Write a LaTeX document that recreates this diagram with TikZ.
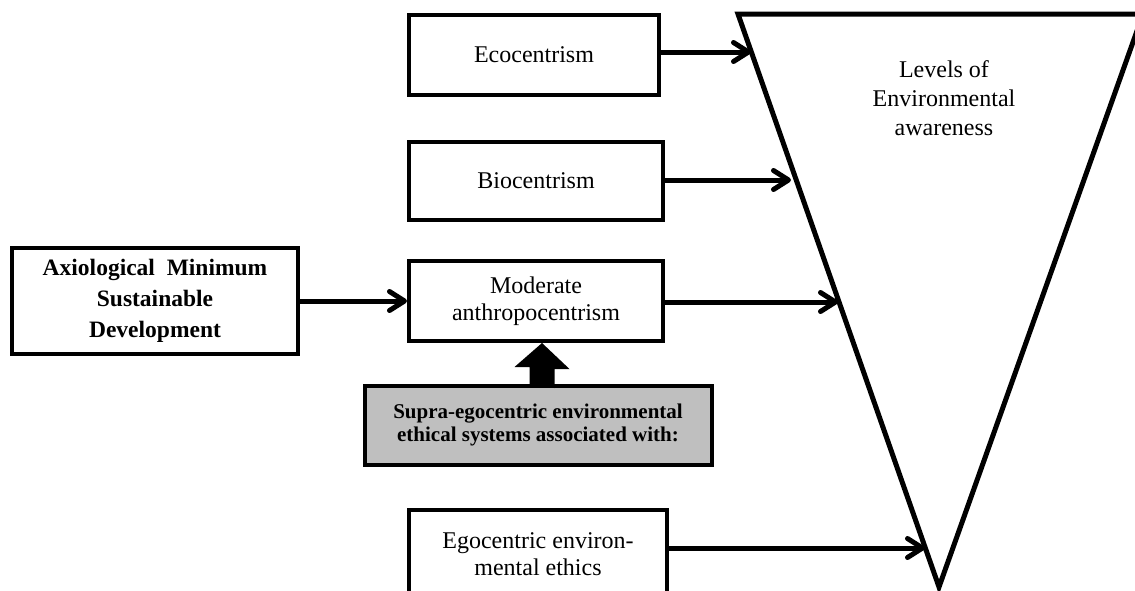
\documentclass[tikz,border=0pt]{standalone}
\usepackage{fontspec}
\setmainfont{Liberation Serif}
\usetikzlibrary{arrows.meta}
\begin{document}
\begin{tikzpicture}[x=1pt,y=-1pt,
  box/.style={draw, line width=4pt, fill=white, inner sep=0pt, align=center,
    font=\fontsize{24}{27}\selectfont},
  boldbox/.style={box, font=\fontsize{23.5}{31}\selectfont\bfseries},
  greybox/.style={box, fill=black!25, font=\fontsize{21}{23.5}\selectfont\bfseries},
  plain/.style={align=center, inner sep=0pt, font=\fontsize{24}{29}\selectfont},
  arr/.style={line width=5pt, -{Straight Barb[length=15pt,width=19pt,round]}},
  tri/.style={line width=5pt, line join=miter}]
\useasboundingbox (0,0) rectangle (1135,590);
\begin{scope}
\clip (0,0) rectangle (1135,590);
% triangle
\coordinate (tl) at (738,14);
\coordinate (tr) at (1143,14);
\coordinate (apex) at (939,587);
\draw[tri] (tl) -- (tr) -- (apex) -- cycle;
\node[plain] (levels) at (944,98) {Levels of\\Environmental\\awareness};
% boxes
\node[box, minimum width=250pt, minimum height=80pt] (eco) at (534,55) {Ecocentrism};
\node[box, minimum width=254pt, minimum height=78pt] (bio) at (536,181) {Biocentrism};
\node[box, minimum width=254pt, minimum height=80pt] (mod) at (536,301) {Moderate\\anthropocentrism};
\node[boldbox, minimum width=286pt, minimum height=106pt] (axio) at (155,301) {Axiological\ \ Minimum\\Sustainable\\Development};
\node[greybox, minimum width=347pt, minimum height=79pt] (grey) at (538,425) {Supra-egocentric environmental\\ethical systems associated with:};
\node[box, minimum width=258pt, minimum height=88pt] (ego) at (538,554) {Egocentric environ-\\mental ethics};
% edge points on the triangle
\coordinate (e1) at (751,52);
\coordinate (e2) at (791,180);
\coordinate (e3) at (838,302);
\coordinate (e4) at (925,548);
% connectors
\draw[arr] (eco.east |- e1) -- (e1);
\draw[arr] (bio.east |- e2) -- (e2);
\draw[arr] (mod.east |- e3) -- (e3);
\draw[arr] (ego.east |- e4) -- (e4);
\draw[arr] (axio.east) -- (mod.west);
% block arrow
\coordinate (bb) at (542,386);
\fill (bb) ++(-12.5,0) -- ++(0,-19) -- ++(-15,0) -- (mod.south -| bb) -- ++(27.5,26) -- ++(-15,0) -- ++(0,19) -- cycle;
\end{scope}
\end{tikzpicture}
\end{document}
